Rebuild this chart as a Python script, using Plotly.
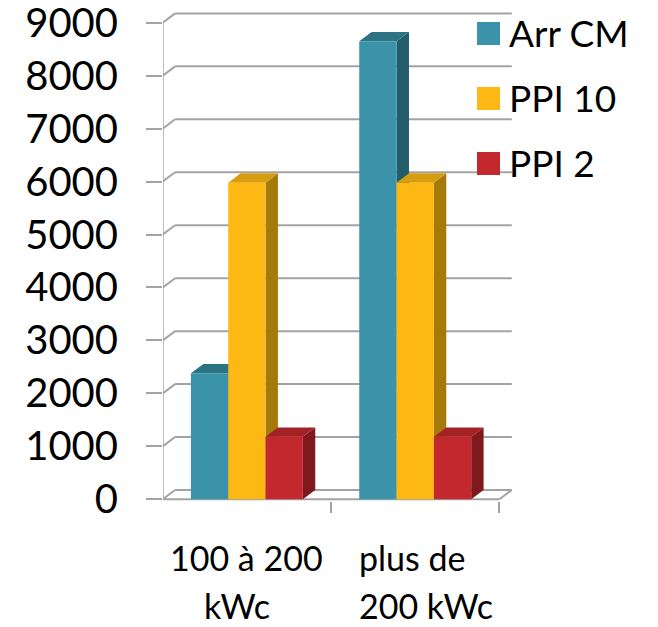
import plotly.graph_objects as go

# ---------------- data ----------------
categories = ["100 à 200 kWc", "plus de 200 kWc"]
category_lines = [["100 à 200", "kWc"], ["plus de", "200 kWc"]]
series_names = ["Arr CM", "PPI 10", "PPI 2"]
arr_cm = [2380, 8650]
ppi_10 = [5980, 5980]
ppi_2 = [1180, 1180]
y_tick_values = [0, 1000, 2000, 3000, 4000, 5000, 6000, 7000, 8000, 9000]

series_values = [arr_cm, ppi_10, ppi_2]

# ---------------- styles ----------------
front_colors = ["#3A93A8", "#FDB813", "#C3282E"]
top_colors = ["#2C7384", "#D69D0F", "#A32226"]
side_colors = ["#235C6A", "#A57A0B", "#7E1A1D"]
grid_color = "#A3A3A3"
FONT = "Lato"

W, H = 658, 627
L, R, T, B = 163, 143, 10, 126
plot_w = W - L - R
plot_h = H - T - B

# pixel anchors of the front frame
X_LEFT_PX, X_RIGHT_PX = 162.7, 499.4   # x = -0.5 and x = 1.5
Y0_PX, Y9000_PX = 499.3, 22.7
DX_PX, DY_PX = 12.4, 9.3                # depth offset (perspective)

kx = (X_RIGHT_PX - X_LEFT_PX) / 2.0
ky = (Y0_PX - Y9000_PX) / 9000.0
x_min = -0.5 - (X_LEFT_PX - L) / kx
x_max = x_min + plot_w / kx
y_min = -((H - B) - Y0_PX) / ky
y_max = y_min + plot_h / ky
ddx = DX_PX / kx
ddy = DY_PX / ky

x_pos = list(range(len(categories)))
bargap = 0.335
n = len(series_names)
bw = (1 - bargap) / n

fig = go.Figure()
for i, (name, vals) in enumerate(zip(series_names, series_values)):
    fig.add_trace(go.Bar(
        x=x_pos, y=vals, name=name,
        marker=dict(color=front_colors[i], line=dict(width=0)),
        showlegend=False, hoverinfo="x+y+name",
    ))

shapes = []
def line(x0, y0, x1, y1, width=2):
    shapes.append(dict(type="line", xref="x", yref="y",
                       x0=x0, y0=y0, x1=x1, y1=y1, layer="below",
                       line=dict(color=grid_color, width=width)))

# back wall gridlines + left wall diagonals
xa, xb = -0.5, 1.5
for t in y_tick_values:
    line(xa, t, xa + ddx, t + ddy)
    line(xa + ddx, t + ddy, xb + ddx, t + ddy)
# floor: front edge and right diagonal
line(xa, 0, xb, 0)
line(xb, 0, xb + ddx, ddy)
# front-left vertical edge
line(xa, 0, xa, y_tick_values[-1])

# bar top and side faces (painter's order: per category, series left to right)
for c in x_pos:
    for i, vals in enumerate(series_values):
        v = vals[c]
        xl = c - (1 - bargap) / 2 + i * bw
        xr = xl + bw
        top = f"M{xl},{v} L{xl+ddx},{v+ddy} L{xr+ddx},{v+ddy} L{xr},{v} Z"
        side = f"M{xr},{0} L{xr+ddx},{ddy} L{xr+ddx},{v+ddy} L{xr},{v} Z"
        for path, col in ((side, side_colors[i]), (top, top_colors[i])):
            shapes.append(dict(type="path", xref="x", yref="y", path=path,
                               fillcolor=col, line=dict(width=0), layer="below"))

def px_to_paper_x(px):
    return (px - L) / plot_w

def px_to_paper_y(py):
    return ((H - B) - py) / plot_h

annotations = []
# manual legend (large swatches)
legend_y_px = [33.5, 98.5, 163.5]
for i, name in enumerate(series_names):
    yc = legend_y_px[i]
    shapes.append(dict(type="rect", xref="paper", yref="paper",
                       x0=px_to_paper_x(477), x1=px_to_paper_x(500),
                       y0=px_to_paper_y(yc + 11.5), y1=px_to_paper_y(yc - 11.5),
                       fillcolor=front_colors[i], line=dict(width=0), layer="above"))
    annotations.append(dict(xref="paper", yref="paper", x=px_to_paper_x(507),
                            y=px_to_paper_y(yc - 1), xanchor="left", yanchor="middle",
                            text=name, showarrow=False,
                            font=dict(family=FONT, size=37, color="black")))

# category labels (two lines each)
line_y_px = [557, 605]
line_xshift = [[0, -10], [-3, 11]]
for c, lines in enumerate(category_lines):
    for j, txt in enumerate(lines):
        annotations.append(dict(xref="x", yref="paper", x=x_pos[c],
                                y=px_to_paper_y(line_y_px[j]), xanchor="center",
                                yanchor="middle", xshift=line_xshift[c][j],
                                text=txt, showarrow=False,
                                font=dict(family=FONT, size=34, color="black")))

fig.update_layout(
    width=W, height=H,
    margin=dict(l=L, r=R, t=T, b=B, autoexpand=False),
    paper_bgcolor="white", plot_bgcolor="white",
    barmode="group", bargap=bargap, bargroupgap=0,
    showlegend=False,
    shapes=shapes, annotations=annotations,
    xaxis=dict(range=[x_min, x_max], showgrid=False, zeroline=False, showline=False,
               tickmode="array", tickvals=[-0.5, 0.5, 1.5], showticklabels=False,
               ticks="outside", ticklen=11, tickwidth=2, tickcolor=grid_color,
               fixedrange=True),
    yaxis=dict(range=[y_min, y_max], showgrid=False, zeroline=False, showline=False,
               tickmode="array", tickvals=y_tick_values,
               ticktext=[str(v) for v in y_tick_values],
               ticks="outside", ticklen=16, tickwidth=2, tickcolor=grid_color,
               ticklabelstandoff=20, ticklabeloverflow="allow",
               tickfont=dict(family=FONT, size=40, color="black"),
               fixedrange=True),
)

fig.write_html("out.html", config={"displayModeBar": False},
               post_script="document.body.style.margin='0';document.body.style.padding='0';")
